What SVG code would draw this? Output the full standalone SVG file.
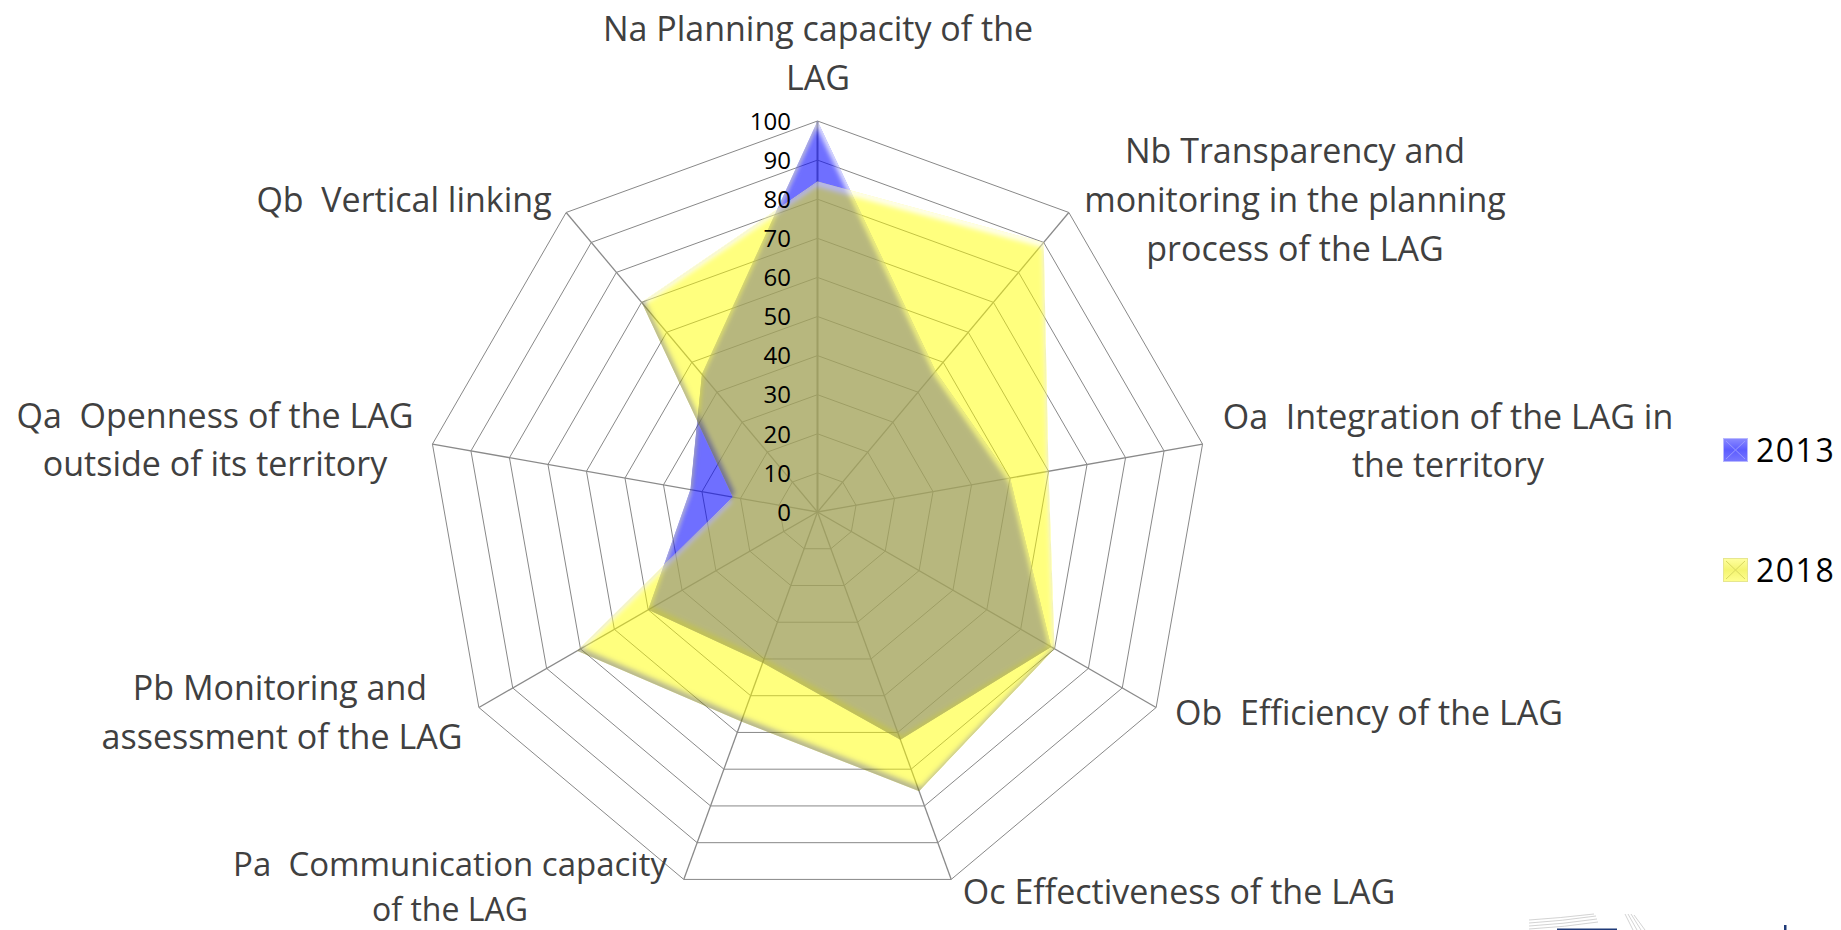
<svg xmlns="http://www.w3.org/2000/svg" xmlns:xlink="http://www.w3.org/1999/xlink" width="1841" height="930" viewBox="0 0 1841 930">
<style>
.ring{fill:none;stroke:#888;stroke-width:1;vector-effect:non-scaling-stroke}
.spoke{stroke:#8a8a8a;stroke-width:1.3}
.cat{font-family:"Open Sans","Liberation Sans",sans-serif;font-size:34px;fill:#404040;text-anchor:middle}
.tick{font-family:"Open Sans","Liberation Sans",sans-serif;font-size:24px;fill:#000;text-anchor:end}
.leg{font-family:"Open Sans","Liberation Sans",sans-serif;font-size:32px;fill:#000;letter-spacing:1.5px}
</style>
<defs>
<polygon id="u" class="ring" points="0,-1 0.642788,-0.766044 0.984808,-0.173648 0.866025,0.5 0.34202,0.939693 -0.34202,0.939693 -0.866025,0.5 -0.984808,-0.173648 -0.642788,-0.766044"/>
<filter id="bevel" x="-5%" y="-5%" width="110%" height="110%" color-interpolation-filters="sRGB">
<feGaussianBlur in="SourceAlpha" stdDeviation="2.5" result="b"/>
<feOffset in="b" dx="-1" dy="5" result="bd"/>
<feComposite in="SourceAlpha" in2="bd" operator="arithmetic" k2="1" k3="-1" result="hi"/>
<feOffset in="b" dx="2" dy="-4" result="bu"/>
<feComposite in="SourceAlpha" in2="bu" operator="arithmetic" k2="1" k3="-1" result="lo"/>
<feFlood flood-color="#ffffff" flood-opacity="0.85" result="w"/>
<feComposite in="w" in2="hi" operator="in" result="hiC"/>
<feFlood flood-color="#333333" flood-opacity="0.7" result="k"/>
<feComposite in="k" in2="lo" operator="in" result="loC"/>
<feMerge><feMergeNode in="SourceGraphic"/><feMergeNode in="hiC"/><feMergeNode in="loC"/></feMerge>
</filter>
<linearGradient id="lb" x1="0" y1="0" x2="0" y2="1"><stop offset="0" stop-color="#8a8aff"/><stop offset="0.5" stop-color="#5c5cff"/><stop offset="1" stop-color="#7878ff"/></linearGradient>
<linearGradient id="ly" x1="0" y1="0" x2="0" y2="1"><stop offset="0" stop-color="#ffffa0"/><stop offset="0.5" stop-color="#f4f470"/><stop offset="1" stop-color="#ffff90"/></linearGradient>
</defs>
<rect width="1841" height="930" fill="#fff"/>

<g id="grid">
<use xlink:href="#u" transform="translate(817.5 512) scale(39.1)"/>
<use xlink:href="#u" transform="translate(817.5 512) scale(78.2)"/>
<use xlink:href="#u" transform="translate(817.5 512) scale(117.3)"/>
<use xlink:href="#u" transform="translate(817.5 512) scale(156.4)"/>
<use xlink:href="#u" transform="translate(817.5 512) scale(195.5)"/>
<use xlink:href="#u" transform="translate(817.5 512) scale(234.6)"/>
<use xlink:href="#u" transform="translate(817.5 512) scale(273.7)"/>
<use xlink:href="#u" transform="translate(817.5 512) scale(312.8)"/>
<use xlink:href="#u" transform="translate(817.5 512) scale(351.9)"/>
<use xlink:href="#u" transform="translate(817.5 512) scale(391)"/>
</g>
<g id="connectors">
<line class="spoke" x1="817.5" y1="512" x2="817.5" y2="121" style="stroke-width:2"/>
<line class="spoke" x1="817.5" y1="512" x2="1068.83" y2="212.48"/>
<line class="spoke" x1="817.5" y1="512" x2="1202.56" y2="444.1"/>
<line class="spoke" x1="817.5" y1="512" x2="1156.12" y2="707.5"/>
<line class="spoke" x1="817.5" y1="512" x2="951.23" y2="879.42"/>
<line class="spoke" x1="817.5" y1="512" x2="683.77" y2="879.42"/>
<line class="spoke" x1="817.5" y1="512" x2="478.88" y2="707.5"/>
<line class="spoke" x1="817.5" y1="512" x2="432.44" y2="444.1"/>
<line class="spoke" x1="817.5" y1="512" x2="566.17" y2="212.48"/>
</g>

<g id="series2013" opacity="0.56" filter="url(#bevel)">
<polygon fill="#0000ff" points="817.5,121 935.62,371.22 1010.03,478.05 1051.14,646.9 900.41,739.8 762.67,662.64 648.19,609.75 690.43,489.59 701.89,374.22"/>
</g>
<g id="series2018" opacity="0.5" filter="url(#bevel)">
<polygon fill="#ffff00" points="817.5,181.6 1043.7,242.43 1048.54,471.26 1054.53,648.85 919.13,791.24 741.27,721.43 577.08,650.81 732.79,497.06 641.57,302.33"/>
</g>

<g id="ticks">
<text class="tick" x="791" y="520.7">0</text>
<text class="tick" x="791" y="481.6">10</text>
<text class="tick" x="791" y="442.5">20</text>
<text class="tick" x="791" y="403.4">30</text>
<text class="tick" x="791" y="364.3">40</text>
<text class="tick" x="791" y="325.2">50</text>
<text class="tick" x="791" y="286.1">60</text>
<text class="tick" x="791" y="247">70</text>
<text class="tick" x="791" y="207.9">80</text>
<text class="tick" x="791" y="168.8">90</text>
<text class="tick" x="791" y="129.7">100</text>
</g>

<g id="label-Na"><text class="cat" x="818" y="41">Na Planning capacity of the</text><text class="cat" x="818" y="90">LAG</text></g>
<g id="label-Nb"><text class="cat" x="1295" y="163">Nb Transparency and</text><text class="cat" x="1295" y="212">monitoring in the planning</text><text class="cat" x="1295" y="261">process of the LAG</text></g>
<g id="label-Oa"><text class="cat" x="1448" y="429" xml:space="preserve">Oa  Integration of the LAG in</text><text class="cat" x="1448" y="477">the territory</text></g>
<g id="label-Ob"><text class="cat" x="1369" y="725" xml:space="preserve">Ob  Efficiency of the LAG</text></g>
<g id="label-Oc"><text class="cat" x="1179" y="904">Oc Effectiveness of the LAG</text></g>
<g id="label-Pa"><text class="cat" x="450" y="876" style="font-size:33px" xml:space="preserve">Pa  Communication capacity</text><text class="cat" x="450" y="921" style="font-size:32px">of the LAG</text></g>
<g id="label-Pb"><text class="cat" x="280" y="700">Pb Monitoring and</text><text class="cat" x="282" y="749">assessment of the LAG</text></g>
<g id="label-Qa"><text class="cat" x="215" y="428" xml:space="preserve">Qa  Openness of the LAG</text><text class="cat" x="215" y="476">outside of its territory</text></g>
<g id="label-Qb"><text class="cat" x="404" y="212" xml:space="preserve">Qb  Vertical linking</text></g>

<g id="legend">
<rect x="1723.5" y="438.5" width="24" height="23" fill="url(#lb)" stroke="#b8b8ff" stroke-width="1"/>
<path d="M1726 441 L1735.5 450 L1745 441 M1726 459 L1735.5 450 L1745 459" fill="none" stroke="#9a9aff" stroke-width="1"/>
<text class="leg" x="1756" y="461.7">2013</text>
<rect x="1723.5" y="558.5" width="24" height="23" fill="url(#ly)" stroke="#e6e690" stroke-width="1"/>
<path d="M1726 561 L1735.5 570 L1745 561 M1726 579 L1735.5 570 L1745 579" fill="none" stroke="#d8d860" stroke-width="1"/>
<text class="leg" x="1756" y="581.7">2018</text>
</g>

<g id="logo-fragment" fill="none" stroke="#c8c8c8" stroke-width="0.8">
<path d="M1529 920 Q1560 918 1594 914 M1529 923 Q1562 921 1596 916 M1529 926 Q1563 924 1597 919 M1529 929 Q1565 927 1598 922"/>
<path d="M1625 914 L1633 930 M1628 914 L1637 930 M1631 914 L1641 930 M1634 915 L1645 930"/>
<rect x="1557" y="928.5" width="60" height="1.5" fill="#1f3a78" stroke="none"/>
<rect x="1784" y="925" width="2.5" height="5" fill="#1f3a78" stroke="none"/>
</g>
</svg>
